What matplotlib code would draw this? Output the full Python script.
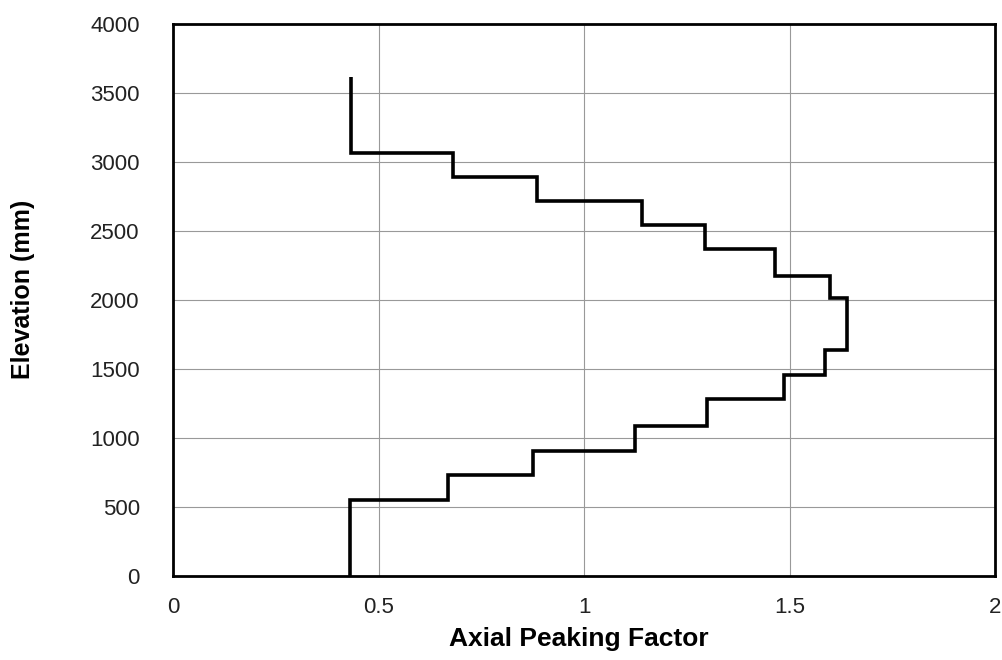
import numpy as np
import matplotlib
matplotlib.use('Agg')
import matplotlib.pyplot as plt

plt.rcParams['font.family'] = ['Liberation Sans', 'DejaVu Sans']

# Axial peaking profile (step per axial node)
elevation_edges = [0, 551, 732, 906, 1089, 1280, 1456, 1638, 2012, 2174,
                   2367, 2543, 2720, 2893, 3067, 3616]
peaking_factor = [0.431, 0.670, 0.875, 1.125, 1.300, 1.487, 1.586, 1.639,
                  1.598, 1.464, 1.294, 1.141, 0.886, 0.682, 0.433]

x_ticks = [0, 0.5, 1, 1.5, 2]
x_tick_labels = ['0', '0.5', '1', '1.5', '2']
y_ticks = [0, 500, 1000, 1500, 2000, 2500, 3000, 3500, 4000]

fig = plt.figure(figsize=(10.02, 6.6), dpi=100)
ax = fig.add_axes([0.1727, 0.1273, 0.8204, 0.8364])

ax.stairs(peaking_factor, elevation_edges, orientation='horizontal',
          baseline=None, color='black', linewidth=2.6)

ax.set_xlim(0, 2)
ax.set_ylim(0, 4000)
ax.set_xticks(x_ticks)
ax.set_xticklabels(x_tick_labels)
ax.set_yticks(y_ticks)
ax.grid(True, color='#999999', linewidth=0.8)
ax.set_axisbelow(True)
ax.tick_params(length=0, labelsize=16, labelcolor='#222222')
ax.tick_params(axis='x', pad=15)
ax.tick_params(axis='y', pad=24)
for s in ax.spines.values():
    s.set_linewidth(2.0)
    s.set_color('black')

ax.set_xlabel('Axial Peaking Factor', fontsize=19, fontweight='bold')
ax.set_ylabel('Elevation (mm)', fontsize=18, fontweight='bold')
ax.xaxis.set_label_coords(0.494, -0.092)
ax.yaxis.set_label_coords(-0.168, 0.52)

fig.savefig('out.png', dpi=100)
